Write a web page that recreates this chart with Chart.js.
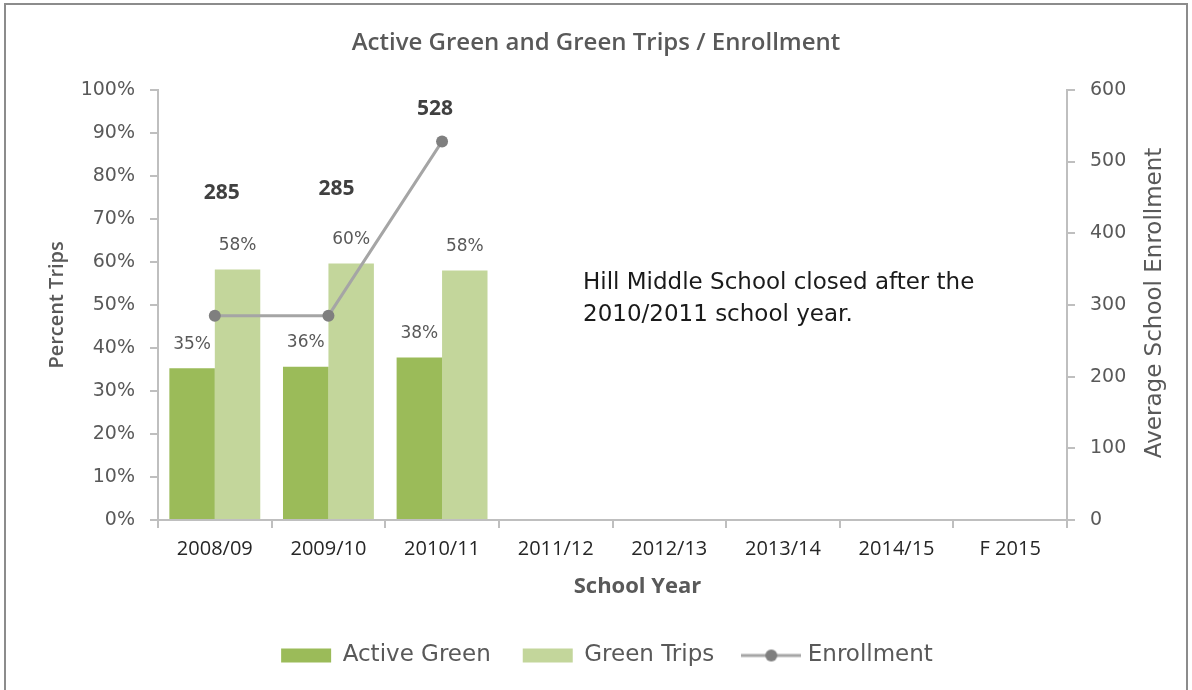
<!DOCTYPE html>
<html>
<head>
<meta charset="utf-8">
<script src="https://cdn.jsdelivr.net/npm/chart.js@4"></script>
<style>
  html, body { margin: 0; padding: 0; background: #fff; }
  #wrap { width: 1192px; height: 690px; }
</style>
</head>
<body>
<div id="wrap"><canvas id="chart" width="1192" height="690"></canvas></div>
<script>
const schoolYears = ["2008/09", "2009/10", "2010/11", "2011/12", "2012/13", "2013/14", "2014/15", "F 2015"];
const activeGreen = [35.3, 35.6, 37.8, null, null, null, null, null];
const greenTrips = [58.2, 59.6, 58.0, null, null, null, null, null];
const enrollment = [285, 285, 528, null, null, null, null, null];
const percentTicks = [0, 10, 20, 30, 40, 50, 60, 70, 80, 90, 100];
const enrollmentTicks = [0, 100, 200, 300, 400, 500, 600];
const noteLines = ["Hill Middle School closed after the", "2010/2011 school year."];

// hand placed enrollment labels, like the original
const enrollLabelShift = [[7, 123], [8, 127], [-7, 32]];

const GRAY_TEXT = "#595959";
const AXIS_GRAY = "#bfbfbf";
const GOTHIC = "DejaVu Sans";

// little legend icon for the line series
const lineIcon = document.createElement("canvas");
lineIcon.width = 60;
lineIcon.height = 14;
(function () {
  const c = lineIcon.getContext("2d");
  c.strokeStyle = "#a5a5a5";
  c.lineWidth = 3;
  c.beginPath();
  c.moveTo(0, 7);
  c.lineTo(60, 7);
  c.stroke();
  c.fillStyle = "#7f7f7f";
  c.beginPath();
  c.arc(30, 7, 6, 0, Math.PI * 2);
  c.fill();
})();

const frame = {
  id: "frame",
  afterLayout(chart) {
    // legend sits a bit right of centre in the original
    chart.legend.left += 11;
    chart.legend.right += 11;
  },
  beforeDraw(chart) {
    const ctx = chart.ctx;
    ctx.save();
    ctx.fillStyle = "#fff";
    ctx.fillRect(0, 0, chart.width, chart.height);
    ctx.strokeStyle = "#8c8c8c";
    ctx.lineWidth = 2;
    ctx.strokeRect(5, 4, chart.width - 10, chart.height + 10);
    ctx.restore();
  }
};

const valueLabels = {
  id: "valueLabels",
  afterDatasetsDraw(chart) {
    const ctx = chart.ctx;
    ctx.save();
    ctx.textAlign = "center";
    ctx.textBaseline = "middle";
    chart.data.datasets.forEach((ds, i) => {
      const meta = chart.getDatasetMeta(i);
      meta.data.forEach((el, j) => {
        const v = ds.data[j];
        if (v == null) return;
        if (ds.type === "line") {
          const s = enrollLabelShift[j] || [0, 30];
          ctx.font = "bold 21px 'Open Sans'";
          ctx.fillStyle = "#404040";
          ctx.fillText(String(v), el.x + s[0], el.y - s[1]);
        } else {
          ctx.font = "17px '" + GOTHIC + "'";
          ctx.fillStyle = GRAY_TEXT;
          ctx.fillText(Math.round(v) + "%", el.x, el.y - 24);
        }
      });
    });
    ctx.restore();
  }
};

// note text, x axis title and right axis title (read bottom to top, as in the original)
const extras = {
  id: "extras",
  afterDraw(chart) {
    const ctx = chart.ctx;
    const y = chart.scales.y;
    const x = chart.scales.x;
    const area = chart.chartArea;
    ctx.save();
    ctx.font = "23px '" + GOTHIC + "'";
    ctx.fillStyle = "#1a1a1a";
    ctx.textAlign = "left";
    ctx.textBaseline = "middle";
    const x0 = area.left + 425;
    noteLines.forEach((t, k) => ctx.fillText(t, x0, y.getPixelForValue(55) + k * 32));

    ctx.textAlign = "center";
    ctx.fillStyle = GRAY_TEXT;
    ctx.font = "bold 22px 'Open Sans'";
    ctx.fillText("School Year", (x.left + x.right) / 2 + 25, x.top + 67);

    const r = chart.scales.y2;
    ctx.translate(r.right - 29, (area.top + area.bottom) / 2 - 2);
    ctx.rotate(-Math.PI / 2);
    ctx.font = "23px '" + GOTHIC + "'";
    ctx.fillText("Average School Enrollment", 0, 0);
    ctx.restore();
  }
};

new Chart(document.getElementById("chart"), {
  data: {
    labels: schoolYears,
    datasets: [
      {
        type: "line",
        label: "Enrollment",
        data: enrollment,
        yAxisID: "y2",
        borderColor: "#a5a5a5",
        borderWidth: 3,
        pointRadius: 6,
        pointBackgroundColor: "#7f7f7f",
        pointBorderWidth: 0,
        spanGaps: false,
        order: 0
      },
      {
        type: "bar",
        label: "Active Green",
        data: activeGreen,
        backgroundColor: "#9bbb59",
        borderWidth: 0,
        categoryPercentage: 0.8,
        barPercentage: 1.0,
        order: 1
      },
      {
        type: "bar",
        label: "Green Trips",
        data: greenTrips,
        backgroundColor: "#c3d69b",
        borderWidth: 0,
        categoryPercentage: 0.8,
        barPercentage: 1.0,
        order: 1
      }
    ]
  },
  options: {
    responsive: false,
    animation: false,
    layout: { padding: { left: 8, right: 8, top: 0, bottom: 13 } },
    plugins: {
      tooltip: { enabled: false },
      title: {
        display: true,
        text: "Active Green and Green Trips / Enrollment",
        color: GRAY_TEXT,
        font: { family: "Open Sans", size: 24, weight: "600" },
        padding: { top: 29, bottom: 32 }
      },
      legend: {
        position: "bottom",
        labels: {
          usePointStyle: true,
          pointStyleWidth: 50,
          boxHeight: 14,
          padding: 32,
          color: GRAY_TEXT,
          font: { family: GOTHIC, size: 23 },
          sort: (a, b) => (a.datasetIndex === 0) - (b.datasetIndex === 0) || a.datasetIndex - b.datasetIndex,
          generateLabels(chart) {
            const items = Chart.defaults.plugins.legend.labels.generateLabels(chart);
            items.forEach((it) => {
              const ds = chart.data.datasets[it.datasetIndex];
              if (ds.type === "line") {
                it.pointStyle = lineIcon;
              } else {
                it.pointStyle = "rect";
                it.lineWidth = 0;
              }
            });
            return items;
          }
        }
      }
    },
    scales: {
      x: {
        offset: true,
        grid: {
          offset: true,
          drawOnChartArea: false,
          drawTicks: true,
          tickLength: 8,
          color: AXIS_GRAY,
          lineWidth: 2
        },
        border: { display: true, color: AXIS_GRAY, width: 2 },
        ticks: {
          color: "#262626",
          font: { family: "Open Sans", size: 20 },
          padding: 9,
          maxRotation: 0
        },
        afterFit(s) { s.height = 92; }
      },
      y: {
        position: "left",
        min: 0,
        max: 100,
        afterBuildTicks(s) { s.ticks = percentTicks.map((v) => ({ value: v })); },
        grid: {
          drawOnChartArea: false,
          drawTicks: true,
          tickLength: 8,
          color: AXIS_GRAY,
          lineWidth: 2
        },
        border: { display: true, color: AXIS_GRAY, width: 2 },
        ticks: {
          color: GRAY_TEXT,
          font: { family: GOTHIC, size: 19 },
          padding: 15,
          callback: (v) => v + "%"
        },
        title: {
          display: true,
          text: "Percent Trips",
          color: GRAY_TEXT,
          font: { family: "Open Sans", size: 20, weight: "600" },
          padding: { top: 37, bottom: 0 }
        },
        afterFit(s) { s.width = 150; }
      },
      y2: {
        position: "right",
        min: 0,
        max: 600,
        afterBuildTicks(s) { s.ticks = enrollmentTicks.map((v) => ({ value: v })); },
        grid: {
          drawOnChartArea: false,
          drawTicks: true,
          tickLength: 8,
          color: AXIS_GRAY,
          lineWidth: 2
        },
        border: { display: true, color: AXIS_GRAY, width: 2 },
        ticks: {
          color: GRAY_TEXT,
          font: { family: GOTHIC, size: 19 },
          padding: 15
        },
        afterFit(s) { s.width = 117; }
      }
    }
  },
  plugins: [frame, valueLabels, extras]
});
</script>
</body>
</html>
